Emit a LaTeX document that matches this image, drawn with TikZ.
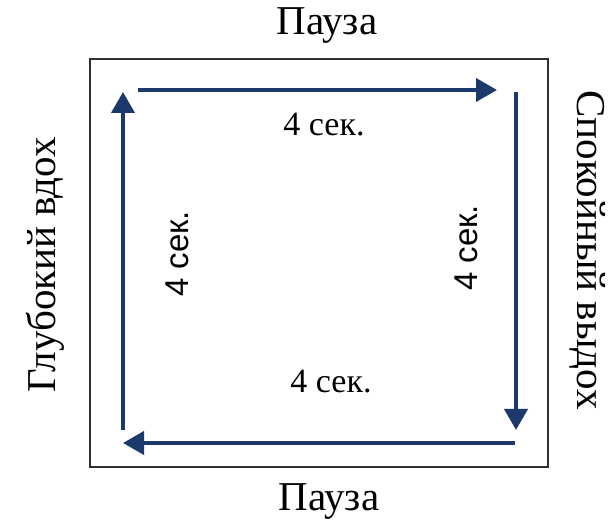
\documentclass[tikz,border=0pt]{standalone}
\usepackage{fontspec}
\setmainfont{Liberation Serif}
\setsansfont{Liberation Sans}
\usetikzlibrary{arrows.meta}
\definecolor{navy}{HTML}{1B3A6B}
\definecolor{frame}{HTML}{303030}
\tikzset{
  flow/.style={draw=navy, line width=4pt, -{Triangle[length=21pt,width=23pt]}},
  bigtxt/.style={font=\fontsize{41}{44}\selectfont, inner sep=0pt},
  sectxt/.style={font=\fontsize{34}{38}\selectfont, inner sep=0pt},
  sidetxt/.style={font=\sffamily\fontsize{33}{36}\selectfont, inner sep=0pt, rotate=90},
}
\begin{document}
\begin{tikzpicture}[x=1pt,y=1pt]
\useasboundingbox (0,0) rectangle (616,522);
\node[draw=frame, line width=2pt, minimum width=458pt, minimum height=408pt, inner sep=0pt] (box) at (319,259) {};
\coordinate (tl1) at (138,432);
\coordinate (tr1) at (497,432);
\coordinate (tr2) at (516,430);
\coordinate (br2) at (516,92);
\coordinate (br3) at (515,79);
\coordinate (bl3) at (123,79);
\coordinate (bl4) at (123,92);
\coordinate (tl4) at (123,430);
\draw[flow] (tl1) -- (tr1);
\draw[flow] (tr2) -- (br2);
\draw[flow] (br3) -- (bl3);
\draw[flow] (bl4) -- (tl4);
\node[bigtxt] (ptop) at (327,496) {Пауза};
\node[bigtxt] (pbot) at (329,20) {Пауза};
\node[sectxt] (stop) at (324,397) {4 сек.};
\node[sectxt] (sbot) at (331,140) {4 сек.};
\node[sidetxt] (sleft) at (177,268) {4 сек.};
\node[sidetxt] (sright) at (466,274) {4 сек.};
\node[bigtxt, rotate=90] (inhale) at (45,257) {Глубокий вдох};
\node[bigtxt, rotate=-90] (exhale) at (588,272) {Спокойный выдох};
\end{tikzpicture}
\end{document}
